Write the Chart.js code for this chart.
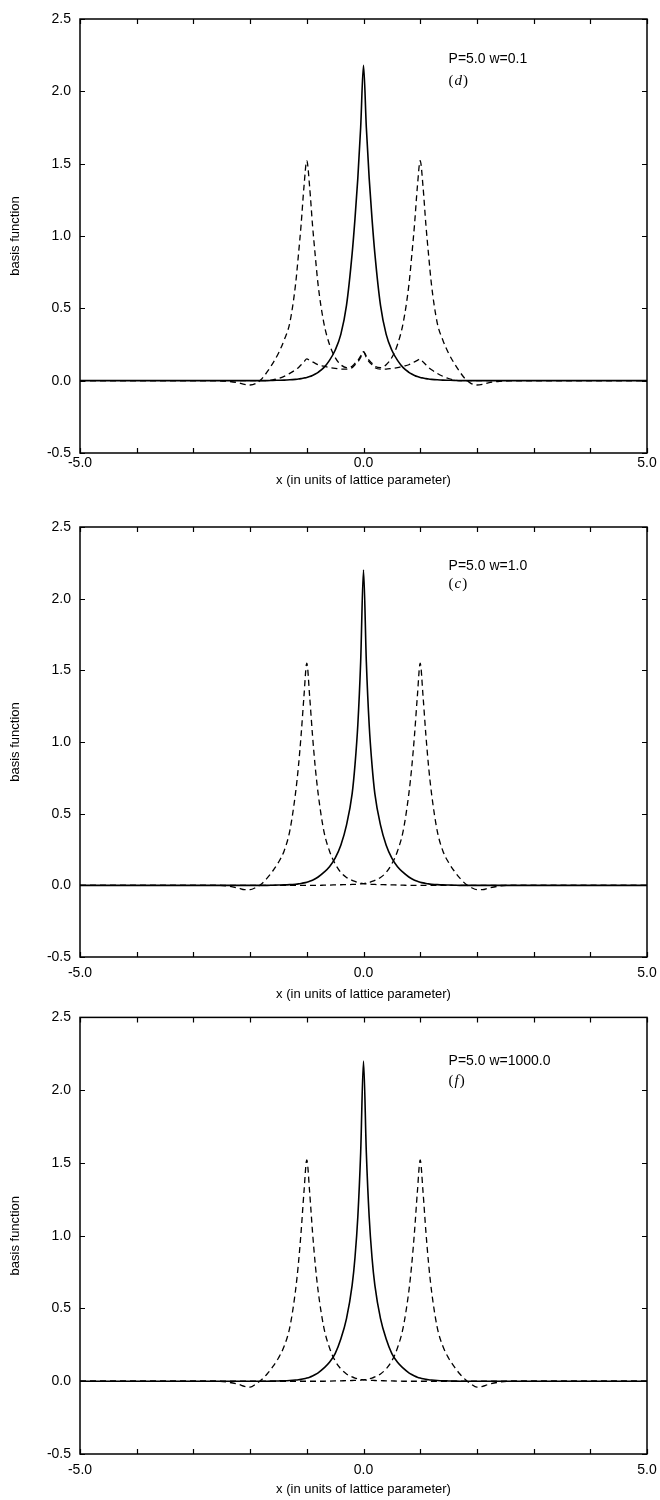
<!DOCTYPE html>
<html>
<head>
<meta charset="utf-8">
<script src="https://cdn.jsdelivr.net/npm/chart.js@4.4.1/dist/chart.umd.min.js"></script>
<style>
  body { margin: 0; background: #fff; width: 660px; height: 1500px; position: relative; overflow: hidden; }
  canvas { position: absolute; left: 0; }
</style>
</head>
<body>
<canvas id="panelD" width="660" height="500" style="top:0px"></canvas>
<canvas id="panelC" width="660" height="500" style="top:505px"></canvas>
<canvas id="panelF" width="660" height="500" style="top:1000px"></canvas>
<script>
// sample positions (lattice units), shared by every curve
const xs = [-5.0, -2.6, -2.4, -2.2, -2.1, -2.0, -1.9, -1.8, -1.7, -1.6,
  -1.5, -1.4, -1.3, -1.2, -1.15, -1.1, -1.05, -1.0, -0.95, -0.9,
  -0.85, -0.8, -0.7, -0.6, -0.5, -0.4, -0.3, -0.2, -0.15, -0.1,
  -0.05, 0.0, 0.05, 0.1, 0.15, 0.2, 0.3, 0.4, 0.5, 0.6,
  0.7, 0.8, 0.85, 0.9, 0.95, 1.0, 1.05, 1.1, 1.15, 1.2,
  1.3, 1.4, 1.5, 1.6, 1.7, 1.8, 1.9, 2.0, 2.1, 2.2,
  2.4, 2.6, 5.0];

const yTicks = [-0.5, 0.0, 0.5, 1.0, 1.5, 2.0, 2.5];
const xTicks = [-5.0, 0.0, 5.0];
const xMinor = [-5, -4, -3, -2, -1, 0, 1, 2, 3, 4, 5];

// (d)  P=5.0 w=0.1
const dSolid = [0,0,0,0,0,0,0,0,0,0.002, 0.003,0.004,0.006,0.009,0.011,0.014,0.018,0.022,0.028,0.036,
  0.046,0.058,0.09,0.14,0.21,0.32,0.52,0.88,1.12,1.40, 1.75,2.18,1.75,1.40,1.12,0.88,0.52,0.32,0.21,0.14,
  0.09,0.058,0.046,0.036,0.028,0.022,0.018,0.014,0.011,0.009, 0.006,0.004,0.003,0.002,0,0,0,0,0,0, 0,0,0];
const dLeft = [0,0,-0.004,-0.015,-0.025,-0.03,-0.02,0.01,0.06,0.12, 0.19,0.28,0.40,0.66,0.86,1.08,1.34,1.52,1.34,1.08,
  0.86,0.66,0.40,0.25,0.16,0.11,0.09,0.10,0.12,0.14, 0.17,0.20,0.16,0.13,0.11,0.09,0.08,0.08,0.085,0.09,
  0.10,0.11,0.12,0.13,0.14,0.15,0.13,0.11,0.09,0.075, 0.05,0.03,0.015,0.005,0,0,0,0,0,0, 0,0,0];
const dRight = [0,0,0,0,0,0,0,0,0,0.005, 0.015,0.03,0.05,0.075,0.09,0.11,0.13,0.15,0.14,0.13,
  0.12,0.11,0.10,0.09,0.085,0.08,0.08,0.09,0.11,0.13, 0.16,0.20,0.17,0.14,0.12,0.10,0.09,0.11,0.16,0.25,
  0.40,0.66,0.86,1.08,1.34,1.52,1.34,1.08,0.86,0.66, 0.40,0.28,0.19,0.12,0.06,0.01,-0.02,-0.03,-0.025,-0.015, -0.004,0,0];

// (c)  P=5.0 w=1.0
const cSolid = [0,0,0,0,0,0,0,0,0,0.001, 0.002,0.003,0.005,0.008,0.010,0.013,0.017,0.022,0.028,0.036,
  0.046,0.058,0.09,0.13,0.19,0.28,0.42,0.64,0.84,1.12, 1.56,2.20,1.56,1.12,0.84,0.64,0.42,0.28,0.19,0.13,
  0.09,0.058,0.046,0.036,0.028,0.022,0.017,0.013,0.010,0.008, 0.005,0.003,0.002,0.001,0,0,0,0,0,0, 0,0,0];
const cLeft = [0,0,-0.005,-0.02,-0.03,-0.03,-0.015,0.01,0.05,0.10, 0.16,0.24,0.38,0.64,0.82,1.05,1.32,1.55,1.32,1.05,
  0.82,0.64,0.38,0.24,0.15,0.09,0.055,0.035,0.027,0.02, 0.015,0.012,0.01,0.008,0.007,0.006,0.005,0.004,0.003,0.002,
  0.001,0,0,0,0,0,0,0,0,0, 0,0,0,0,0,0,0,0,0,0, 0,0,0];
const cRight = [0,0,0,0,0,0,0,0,0,0, 0,0,0,0,0,0,0,0,0,0, 0,0,0.001,0.002,0.003,0.004,0.005,0.006,0.007,0.008,
  0.01,0.012,0.015,0.02,0.027,0.035,0.055,0.09,0.15,0.24, 0.38,0.64,0.82,1.05,1.32,1.55,1.32,1.05,0.82,0.64,
  0.38,0.24,0.16,0.10,0.05,0.01,-0.015,-0.03,-0.03,-0.02, -0.005,0,0];

// (f)  P=5.0 w=1000.0
const fSolid = [0,0,0,0,0,0,0,0,0,0.001, 0.002,0.003,0.005,0.008,0.010,0.013,0.017,0.022,0.028,0.036,
  0.046,0.058,0.09,0.13,0.19,0.29,0.43,0.66,0.85,1.13, 1.57,2.20,1.57,1.13,0.85,0.66,0.43,0.29,0.19,0.13,
  0.09,0.058,0.046,0.036,0.028,0.022,0.017,0.013,0.010,0.008, 0.005,0.003,0.002,0.001,0,0,0,0,0,0, 0,0,0];
const fLeft = [0,0,-0.006,-0.022,-0.035,-0.04,-0.02,0.01,0.05,0.10, 0.16,0.24,0.37,0.62,0.80,1.03,1.30,1.52,1.30,1.03,
  0.80,0.62,0.37,0.23,0.14,0.085,0.05,0.03,0.022,0.016, 0.012,0.01,0.008,0.007,0.006,0.005,0.004,0.003,0.002,0.001,
  0,0,0,0,0,0,0,0,0,0, 0,0,0,0,0,0,0,0,0,0, 0,0,0];
const fRight = [0,0,0,0,0,0,0,0,0,0, 0,0,0,0,0,0,0,0,0,0, 0,0,0,0.001,0.002,0.003,0.004,0.005,0.006,0.007,
  0.008,0.01,0.012,0.016,0.022,0.03,0.05,0.085,0.14,0.23, 0.37,0.62,0.80,1.03,1.30,1.52,1.30,1.03,0.80,0.62,
  0.37,0.24,0.16,0.10,0.05,0.01,-0.02,-0.04,-0.035,-0.022, -0.006,0,0];

const SANS = '"Liberation Sans", Arial, Helvetica, sans-serif';
const SERIF = '"Liberation Serif", "Times New Roman", serif';

// box, inward ticks on all four sides, and the parameter note
const framePlugin = {
  id: 'frame',
  afterDatasetsDraw(chart, args, opts) {
    const { ctx, chartArea: a, scales: { x, y } } = chart;
    ctx.save();
    ctx.strokeStyle = '#000';
    ctx.lineWidth = 1.5;
    ctx.strokeRect(a.left, a.top, a.right - a.left, a.bottom - a.top);

    ctx.lineWidth = 1.2;
    ctx.beginPath();
    xMinor.forEach(v => {
      const px = Math.round(x.getPixelForValue(v)) + 0.5;
      ctx.moveTo(px, a.bottom); ctx.lineTo(px, a.bottom - 5);
      ctx.moveTo(px, a.top); ctx.lineTo(px, a.top + 5);
    });
    yTicks.forEach(v => {
      const py = Math.round(y.getPixelForValue(v)) + 0.5;
      ctx.moveTo(a.left, py); ctx.lineTo(a.left + 5, py);
      ctx.moveTo(a.right, py); ctx.lineTo(a.right - 5, py);
    });
    ctx.stroke();

    ctx.fillStyle = '#000';
    ctx.textBaseline = 'middle';
    const nx = x.getPixelForValue(opts.noteX);
    ctx.font = '14px ' + SANS;
    ctx.fillText(opts.note, nx, y.getPixelForValue(opts.noteY));

    const ty = y.getPixelForValue(opts.tagY);
    ctx.font = '15px ' + SERIF;
    ctx.fillText('(', nx, ty);
    let tx = nx + ctx.measureText('(').width + 1;
    ctx.font = 'italic 15px ' + SERIF;
    ctx.fillText(opts.tag, tx, ty);
    tx += ctx.measureText(opts.tag).width + 1;
    ctx.font = '15px ' + SERIF;
    ctx.fillText(')', tx, ty);
    ctx.restore();
  }
};

function series(ys, dashed) {
  return {
    data: xs.map((v, i) => ({ x: v, y: ys[i] })),
    borderColor: '#000',
    borderWidth: dashed ? 1.3 : 1.6,
    borderDash: dashed ? [6, 4] : [],
    pointRadius: 0,
    cubicInterpolationMode: 'monotone',
    fill: false
  };
}

function panel(id, solid, left, right, p) {
  new Chart(document.getElementById(id), {
    type: 'line',
    data: { datasets: [series(left, true), series(right, true), series(solid, false)] },
    plugins: [framePlugin],
    options: {
      responsive: false,
      animation: false,
      events: [],
      layout: { padding: { top: p.padTop, right: 13, left: 0, bottom: 0 } },
      plugins: {
        legend: { display: false },
        tooltip: { enabled: false },
        frame: { note: p.note, tag: p.tag, noteX: 1.5, noteY: p.noteY, tagY: p.tagY }
      },
      scales: {
        x: {
          type: 'linear', min: -5, max: 5,
          afterFit: s => { s.height = p.xHeight; },
          afterBuildTicks: s => { s.ticks = xTicks.map(v => ({ value: v })); },
          grid: { display: false, drawTicks: false },
          border: { display: false },
          ticks: { padding: 3, maxRotation: 0, autoSkip: false, color: '#000',
                   font: { family: SANS, size: 14, lineHeight: p.tickLine },
                   callback: v => v.toFixed(1) },
          title: { display: true, text: 'x (in units of lattice parameter)', color: '#000',
                   font: { family: SANS, size: 13 }, padding: { top: 0, bottom: p.titlePad } }
        },
        y: {
          min: -0.5, max: 2.5,
          afterFit: s => { s.width = 80; },
          afterBuildTicks: s => { s.ticks = yTicks.map(v => ({ value: v })); },
          grid: { display: false, drawTicks: false },
          border: { display: false },
          ticks: { padding: 9, color: '#000', font: { family: SANS, size: 14 },
                   callback: v => v.toFixed(1) },
          title: { display: true, text: 'basis function', color: '#000',
                   font: { family: SANS, size: 13 }, padding: { top: 8, bottom: 0 } }
        }
      }
    }
  });
}

panel('panelD', dSolid, dLeft, dRight,
  { padTop: 19, xHeight: 47, tickLine: 1.0, titlePad: 12, note: 'P=5.0 w=0.1', tag: 'd', noteY: 2.22, tagY: 2.07 });
panel('panelC', cSolid, cLeft, cRight,
  { padTop: 22, xHeight: 48, tickLine: 1.85, titlePad: 3, note: 'P=5.0 w=1.0', tag: 'c', noteY: 2.23, tagY: 2.1 });
panel('panelF', fSolid, fLeft, fRight,
  { padTop: 16, xHeight: 46, tickLine: 1.85, titlePad: 3, note: 'P=5.0 w=1000.0', tag: 'f', noteY: 2.2, tagY: 2.06 });
</script>
</body>
</html>
